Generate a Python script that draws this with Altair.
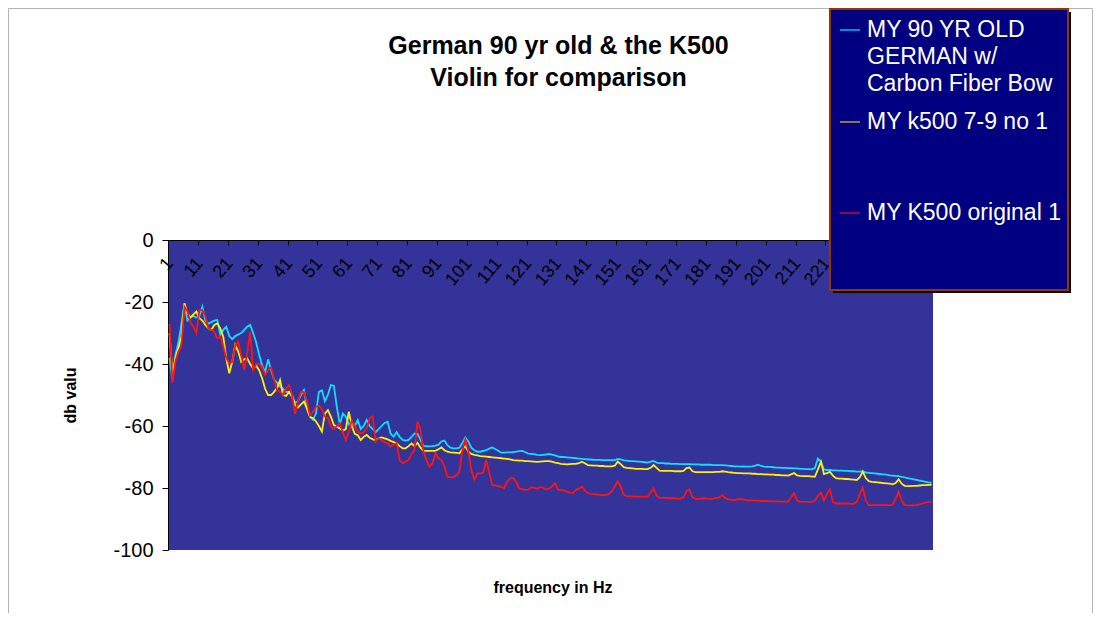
import altair as alt
import pandas as pd

# ---------------- data ----------------
freq_bins = list(range(1, 257))

german_cf_bow = [
    -38, -45, -37, -33, -27, -20.5, -26, -25, -24.5, -25,
    -24.5, -21.5, -26, -27, -26.5, -26, -25.8, -30.5, -29, -28,
    -31, -32, -31, -30.5, -30, -29, -28, -27.4, -30, -33,
    -37, -40.5, -42.5, -38.5, -42, -45, -46, -47.3, -48, -49,
    -49, -50, -52.5, -52, -50, -48.4, -54, -57, -58, -56,
    -49, -48.5, -52, -50, -46.8, -47, -53.8, -59.5, -56, -57,
    -59.5, -58.6, -60, -58.1, -61, -60, -58.1, -60, -61, -62,
    -61, -60, -59, -58.6, -62.5, -63.4, -62, -63.5, -64.5, -64.7,
    -64.5, -63.5, -62.4, -62.5, -64.5, -66.5, -66.5, -66.6, -66.5, -66.3,
    -66, -65, -64.7, -66.2, -67, -67.2, -67.2, -67, -65.5, -63.7,
    -65, -67, -67.8, -68.3, -68.3, -68, -67.8, -67.3, -66.9, -67.4,
    -68, -68.6, -68.6, -68.5, -68.5, -68.4, -68.3, -68.1, -68, -68.4,
    -68.9, -69, -69.1, -69.3, -69.4, -69.3, -69.2, -69, -69.2, -69.5,
    -69.8, -70, -70, -70.1, -70.2, -70.3, -70.4, -70.5, -70.6, -70.7,
    -70.8, -70.8, -70.9, -70.9, -70.9, -71, -71, -71, -71, -71,
    -70.6, -70.8, -71.1, -71.2, -71.3, -71.3, -71.4, -71.5, -71.6, -71.7,
    -71.8, -71.5, -71.3, -71.8, -72, -72, -72.1, -72.1, -72.2, -72.2,
    -72.2, -72.3, -72.3, -72.3, -72.3, -72.4, -72.4, -72.4, -72.5, -72.5,
    -72.5, -72.5, -72.6, -72.6, -72.6, -72.6, -72.7, -72.8, -72.9, -73,
    -73, -73.1, -73, -73.1, -73.1, -73, -72.8, -72.5, -72.9, -73.1,
    -73.2, -73.2, -73.3, -73.4, -73.4, -73.5, -73.5, -73.6, -73.6, -73.7,
    -73.7, -73.8, -73.8, -73.9, -73.9, -74, -73.5, -70.5, -71.5, -74,
    -74.2, -74.2, -74.3, -74.3, -74.4, -74.4, -74.5, -74.5, -74.6, -74.6,
    -74.7, -74.7, -74.6, -75, -75.1, -75.2, -75.3, -75.4, -75.5, -75.6,
    -75.7, -75.9, -76, -76.1, -76.2, -76.4, -76.6, -76.8, -77, -77.2,
    -77.4, -77.6, -77.8, -78, -78.2, -78.3,
]

k500_7_9 = [
    -30, -43.5, -38, -35, -31, -20.4, -23.6, -25, -24, -23.1,
    -25.2, -26, -27.4, -28.5, -29, -27.4, -26.9, -28.5, -31.2, -38.2,
    -43, -39.3, -33.9, -36, -39.3, -38.5, -38.2, -40, -41.4, -40.5,
    -42, -44.6, -48, -50, -50, -49, -47.8, -45.2, -50, -50.3,
    -49, -50.5, -53.2, -54, -53, -52.1, -54.5, -57, -57.5, -58.5,
    -60, -61.8, -56, -54.9, -57, -59.7, -60.2, -60.8, -61.5, -61,
    -55.4, -60, -62.5, -63, -64.5, -63.5, -62.9, -63.8, -64.3, -64.5,
    -64, -63.7, -64, -64.3, -64.8, -65.2, -65.6, -66.5, -67.2, -67.2,
    -66.5, -65.6, -66.5, -65.4, -67, -68, -68, -68, -68, -68,
    -67.5, -66.9, -67.8, -68.3, -68.5, -68.6, -68.7, -68.8, -67.5, -66.5,
    -68.3, -69, -69.3, -69.5, -69.7, -69.8, -69.9, -70, -70.1, -70.2,
    -70.3, -70.4, -70.5, -70.6, -70.8, -71, -71.1, -71.2, -71.2, -71.3,
    -71.3, -71.4, -71.5, -71.6, -71.5, -71.4, -71.3, -71.3, -71.5, -71.8,
    -72, -72.2, -72.3, -72.4, -72.3, -72.2, -72.2, -72, -71.5, -72,
    -72.6, -72.7, -72.8, -72.8, -72.9, -72.9, -73, -73, -73, -72.8,
    -71.5, -72.3, -73.3, -73.5, -73.6, -73.7, -73.8, -73.8, -73.8, -73.9,
    -73.9, -73.5, -72.6, -73.5, -74.4, -74.5, -74.5, -74.5, -74.5, -74.6,
    -74.6, -74.6, -74.5, -73.6, -73.4, -74.6, -74.9, -74.9, -74.9, -74.9,
    -74.9, -74.9, -74.9, -74.8, -74.8, -74.6, -74.7, -74.9, -75, -75.1,
    -75.2, -75.2, -75.3, -75.3, -75.3, -75.4, -75.4, -75.5, -75.5, -75.6,
    -75.6, -75.7, -75.7, -75.8, -75.8, -75.9, -75.9, -76, -75.6, -75.2,
    -75.9, -76.1, -76.2, -76.2, -76.2, -76.3, -76.3, -74, -71.5, -75.5,
    -75.2, -74.8, -76, -76.8, -77, -77, -77.1, -77.1, -77.2, -77.3,
    -77.4, -76.5, -74.7, -76.8, -77.8, -78, -78.1, -78.2, -78.3, -78.4,
    -78.5, -78.6, -78.8, -78.4, -77.2, -78.6, -79.3, -79.4, -79.4, -79.3,
    -79.3, -79.2, -79.1, -79.1, -79, -79,
]

k500_original = [
    -27, -46, -39, -36, -34, -21.5, -23, -26.5, -28, -30,
    -22.6, -22.6, -24.5, -28.5, -29, -29.6, -31.7, -31.2, -34.4, -38,
    -39.8, -39.3, -34, -32.8, -37, -41.9, -36.6, -29.6, -41.9, -40,
    -40, -41, -43.5, -42, -41, -45, -48.4, -49, -50, -48,
    -46.8, -50, -56.1, -52, -49, -49.1, -52, -56.6, -55.5, -53.8,
    -53.5, -54.5, -57, -57.5, -60.2, -61, -60, -59.1, -62, -64.5,
    -62, -58.1, -60, -61.8, -62.5, -62, -60.7, -57.5, -56.9, -65,
    -64, -64.5, -65.2, -65.6, -66.7, -66, -65.6, -70.9, -72, -71.5,
    -70.9, -69, -67.7, -58.6, -61.3, -68.3, -71, -73.1, -72, -68.8,
    -70.4, -71, -73, -76.3, -76.6, -76.5, -76, -74.7, -68, -64.3,
    -68, -74.1, -77.3, -75.3, -75.3, -75, -70.9, -75, -79, -79.2,
    -79.4, -79.6, -80, -78, -76.9, -76.8, -78, -80.1, -80.4, -80.6,
    -80.6, -79.8, -79.9, -80.3, -79.6, -80, -80.4, -80.2, -79.5, -78.5,
    -80.5, -80.6, -80.8, -81.2, -81.5, -81.7, -80.6, -80.2, -79.6, -80.8,
    -81.7, -81.9, -82, -82.1, -82.2, -82.3, -82.3, -82, -81, -79.5,
    -77.9, -79.5, -82.2, -82.6, -82.7, -82.7, -82.8, -82.8, -82.8, -82.8,
    -82.8, -81.5, -80.1, -82.5, -83.2, -83.2, -83.2, -83.3, -83.3, -83.3,
    -83.4, -83.4, -83.1, -81, -80.4, -83, -83.5, -83.5, -83.4, -83.3,
    -83.4, -83.5, -83.4, -83.2, -83, -82.3, -83.3, -83.6, -83.8, -83.9,
    -83.7, -83.6, -83.7, -83.9, -84, -84, -84.1, -84.1, -84.2, -84.2,
    -84.2, -84.3, -84.3, -84.3, -84.4, -84.4, -84.4, -84.4, -83, -81.7,
    -84, -84.4, -84.5, -84.5, -84.5, -84.5, -84, -82.5, -81.5, -84,
    -82, -80.4, -84.5, -85, -85, -85, -85, -85, -85.1, -85.1,
    -84.5, -82, -79.8, -84, -85.5, -85.5, -85.5, -85.5, -85.5, -85.5,
    -85.5, -85.5, -85.4, -83.5, -81.2, -84, -85.5, -85.6, -85.6, -85.6,
    -85.5, -85.3, -85, -84.7, -84.5, -84.4,
]

legend_lines = [
    ["MY 90 YR OLD", "GERMAN w/", "Carbon Fiber Bow"],
    ["MY k500 7-9 no 1"],
    ["MY K500 original 1"],
]
title_lines = ["German 90 yr old & the K500", "Violin for comparison"]
x_tick_values = list(range(1, 257, 10))
y_tick_values = [0, -20, -40, -60, -80, -100]
x_title = "frequency in Hz"
y_title = "db valu"

# ---------------- styling ----------------
FONT = "Liberation Sans"
W, H = 765, 310
line_colors = ["#10DDFF", "#FFF000", "#FF1414"]
legend_symbol_colors = ["#00BCE4", "#B0A63A", "#B8102C"]

x_enc = alt.X(
    "bin:Q",
    scale=alt.Scale(domain=[0.5, 256.5], nice=False, zero=False),
    axis=alt.Axis(
        orient="bottom", offset=-H, values=x_tick_values,
        labelAngle=-50, labelAlign="right", labelBaseline="middle",
        labelPadding=15, labelFontSize=18, labelFont=FONT, labelColor="black",
        labelOverlap=False, labelBound=False, labelFlush=False,
        tickSize=5, tickColor="black", tickOffset=-1.5, labelOffset=1.5,
        domainColor="black", grid=False,
        title=x_title, titleFont=FONT, titleFontSize=16, titleFontWeight="bold",
        titleX=W / 2 + 2, titleY=H + 37, titleAlign="center", titleBaseline="middle",
        titleColor="black",
    ),
)
y_enc = alt.Y(
    "db:Q",
    scale=alt.Scale(domain=[-100, 0], nice=False, zero=False),
    axis=alt.Axis(
        values=y_tick_values, labelExpr="'' + datum.value",
        labelFontSize=20, labelFont=FONT, labelColor="black", labelPadding=9,
        tickSize=6, tickColor="black", domainColor="black", grid=False,
        title=y_title, titleFont=FONT, titleFontSize=16, titleFontWeight="bold",
        titleX=-98, titleY=H / 2, titleAngle=-90, titleAlign="center",
        titleBaseline="middle", titleColor="black",
    ),
)

series = [german_cf_bow, k500_7_9, k500_original]
line_layers = []
for vals, col in zip(series, line_colors):
    df = pd.DataFrame({"bin": freq_bins, "db": vals})
    line_layers.append(
        alt.Chart(df).mark_line(color=col, strokeWidth=1.8).encode(x=x_enc, y=y_enc)
    )

one = pd.DataFrame({"k": [0]})

frame = alt.Chart(one).mark_rect(fill="transparent", stroke="#b4b4b4", strokeWidth=1).encode(
    x=alt.value(-159.5), x2=alt.value(924.5), y=alt.value(-231.5), y2=alt.value(420)
)

# legend box (shadow + box)
lx1, lx2, ly1, ly2 = 662, 900, -231, 50
shadow = alt.Chart(one).mark_rect(fill="black").encode(
    x=alt.value(lx1 + 3), x2=alt.value(lx2 + 3), y=alt.value(ly1 + 3), y2=alt.value(ly2 + 3)
)
box = alt.Chart(one).mark_rect(fill="#000080", stroke="#993300", strokeWidth=2).encode(
    x=alt.value(lx1), x2=alt.value(lx2), y=alt.value(ly1), y2=alt.value(ly2)
)

legend_y = [-210, -118, -27]
legend_layers = []
for lines, yy, col in zip(legend_lines, legend_y, legend_symbol_colors):
    legend_layers.append(
        alt.Chart(one).mark_rule(color=col, strokeWidth=1.5).encode(
            x=alt.value(672), x2=alt.value(692), y=alt.value(yy)
        )
    )
    legend_layers.append(
        alt.Chart(one).mark_text(
            align="left", baseline="middle", font=FONT, fontSize=23,
            color="white", lineHeight=27,
        ).encode(
            x=alt.value(699),
            y=alt.value(yy),
            text=alt.value(lines if len(lines) > 1 else lines[0]),
        )
    )

chart = alt.layer(
    frame, *line_layers, shadow, box, *legend_layers
).properties(
    width=W, height=H,
    autosize="none",
    background="white",
    padding={"left": 160, "top": 232, "right": 161, "bottom": 63},
    title=alt.TitleParams(
        text=title_lines, font=FONT, fontSize=25, fontWeight="bold", color="black",
        anchor="middle", frame="group", dx=8, offset=-83, lineHeight=32,
    ),
).configure_view(
    fill="#333399", stroke=None
)

chart.save("out.html", embed_options={"renderer": "svg", "actions": False})
